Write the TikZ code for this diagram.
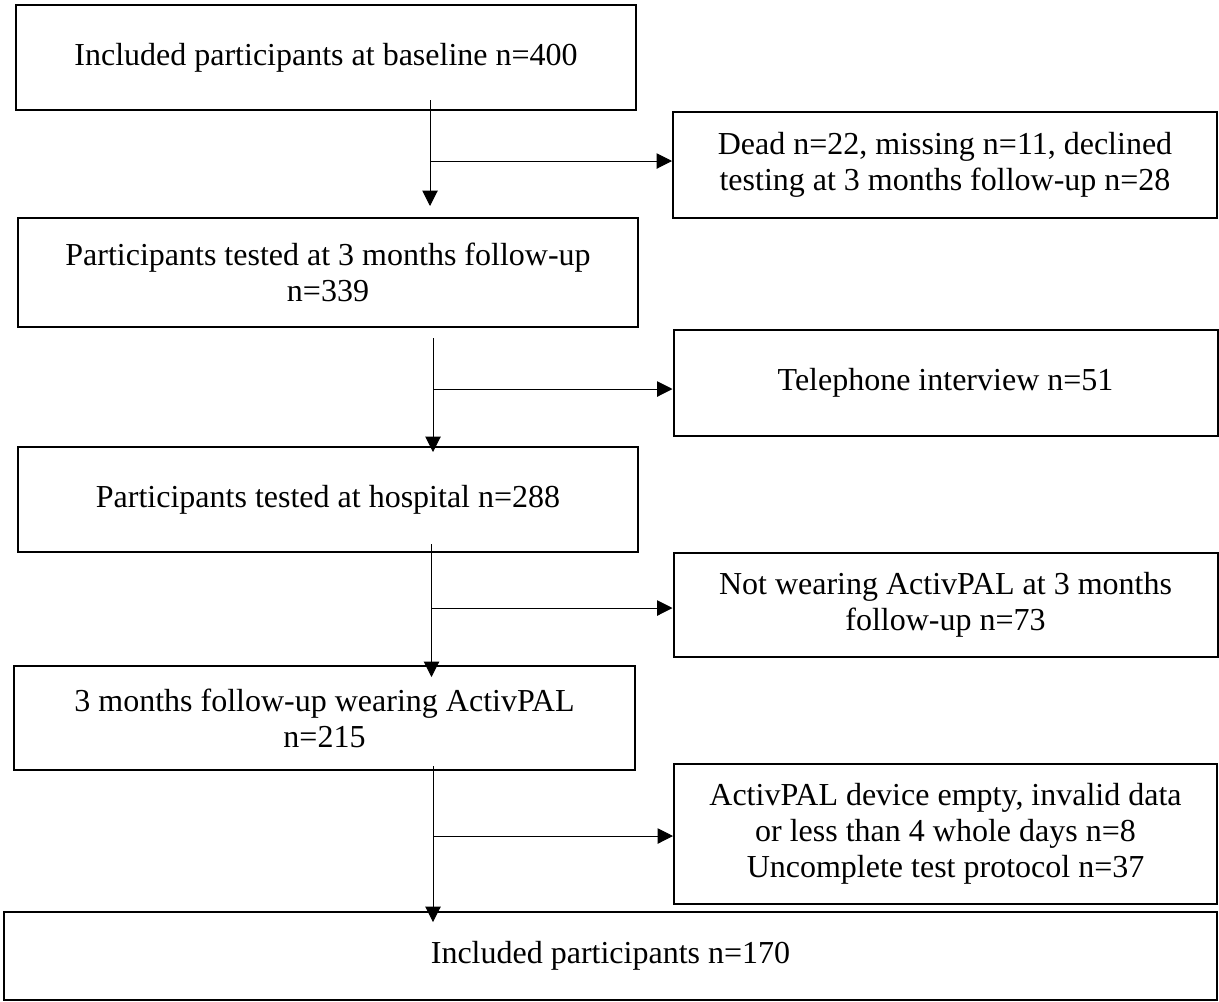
\documentclass[tikz,border=0pt]{standalone}
\usepackage{fontspec}
\setmainfont{Liberation Serif}
\usetikzlibrary{arrows.meta,calc}
\tikzset{
  stage/.style={draw, line width=1.5pt, align=center, inner sep=0pt,
    font=\fontsize{24}{27}\selectfont},
  flow/.style={line width=0.75pt, -{Triangle[length=11.5pt,width=11.5pt]}}
}
\begin{document}
\begin{tikzpicture}[x=0.75pt,y=0.75pt]
    \useasboundingbox (0,0) rectangle (1219,-1001);
    % main column
    \node[stage, minimum width=465pt, minimum height=78.75pt] (base) at (326,-57.5) {Included participants at baseline n=400};
    \node[stage, minimum width=465pt, minimum height=81.75pt] (test3m) at (328,-272.5) {Participants tested at 3 months follow-up\\n=339};
    \node[stage, minimum width=465pt, minimum height=78.75pt] (hosp) at (328,-499.5) {Participants tested at hospital n=288};
    \node[stage, minimum width=465.75pt, minimum height=78pt] (wear) at (324.5,-718) {3 months follow-up wearing ActivPAL\\n=215};
    \node[stage, minimum width=909.75pt, minimum height=66pt] (final) at (610.5,-956) {Included participants n=170};
    % exclusions
    \node[stage, minimum width=408pt, minimum height=79.5pt] (lost) at (945,-165) {Dead n=22, missing n=11, declined\\testing at 3 months follow-up n=28};
    \node[stage, minimum width=408pt, minimum height=79.5pt] (phone) at (945.5,-383) {Telephone interview n=51};
    \node[stage, minimum width=408pt, minimum height=78pt] (nopal) at (945.5,-605) {Not wearing ActivPAL at 3 months\\follow-up n=73};
    \node[stage, minimum width=407.25pt, minimum height=105pt] (invalid) at (945.5,-834) {ActivPAL device empty, invalid data\\or less than 4 whole days n=8\\Uncomplete test protocol n=37};
    % split points
    \coordinate (s1) at (430,-161);
    \coordinate (s2) at (433,-389);
    \coordinate (s3) at (431.5,-608);
    \coordinate (s4) at (433,-836);
    % arrows
    \draw[flow] ($(base.south -| s1)+(0,11)$) -- ($(test3m.north -| s1)+(0,11)$);
    \draw[flow] (s1) -- (s1 -| lost.west);
    \draw[flow] ($(test3m.south -| s2)+(0,-10)$) -- ($(hosp.north -| s2)+(0,-6)$);
    \draw[flow] (s2) -- (s2 -| phone.west);
    \draw[flow] ($(hosp.south -| s3)+(0,9)$) -- ($(wear.north -| s3)+(0,-12)$);
    \draw[flow] (s3) -- (s3 -| nopal.west);
    \draw[flow] ($(wear.south -| s4)+(0,5)$) -- ($(final.north -| s4)+(0,-11)$);
    \draw[flow] (s4) -- (s4 -| invalid.west);
\end{tikzpicture}
\end{document}
